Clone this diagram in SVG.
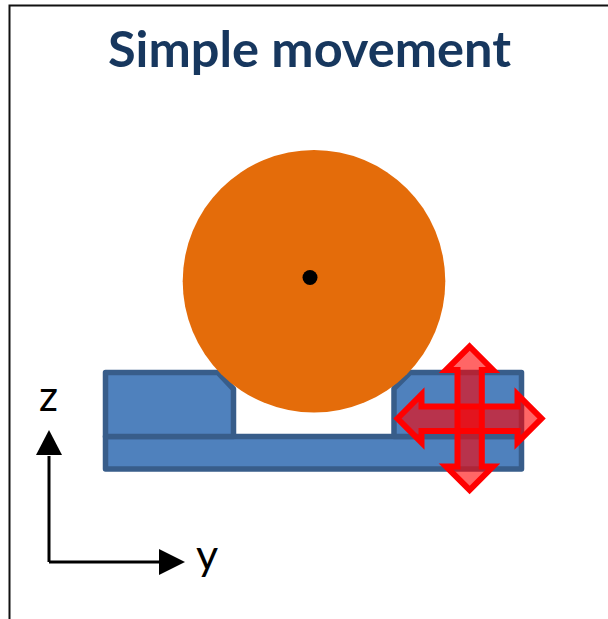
<svg xmlns="http://www.w3.org/2000/svg" width="608" height="619" viewBox="0 0 608 619">
  <style>
    .part { fill: #4F81BD; stroke: #385D8A; stroke-width: 5.5; stroke-linejoin: round; }
    .move { fill: #FF0000; fill-opacity: 0.6; stroke: #FF0000; stroke-width: 6; stroke-linejoin: miter; }
    .axis { fill: none; stroke: #000; stroke-width: 3; }
    .label { font-family: "Lato", "Liberation Sans", sans-serif; fill: #000; }
  </style>
  <rect width="608" height="619" fill="#fff"/>
  <path id="frame" d="M9.5 619V5.5H608" fill="none" stroke="#111" stroke-width="2"/>
  <text id="title" x="309.5" y="66.5" text-anchor="middle" font-family="Lato, 'Liberation Sans', sans-serif" font-weight="700" font-size="50" fill="#17375E" textLength="403" lengthAdjust="spacingAndGlyphs">Simple movement</text>
  <g id="rail"><path class="part" d="M105.5 436.5H521.5V469H105.5Z"/></g>
  <g id="block-left"><path class="part" d="M105.5 372.5H218L233.5 389V436.5H105.5Z"/></g>
  <g id="block-right"><path class="part" d="M410 372.5H521.5V436.5H394V388.5Z"/></g>
  <g id="wheel">
    <circle cx="314" cy="281.3" r="131.3" fill="#E46C0A"/>
    <circle cx="310" cy="277.5" r="7.5" fill="#000"/>
  </g>
  <g id="move-vertical"><path class="move" d="M469.6 346.5L493 370H481.8V466.5H493L469.6 490L446 466.5H457.5V370H446Z"/></g>
  <g id="move-horizontal"><path class="move" d="M397.5 418.5L421.5 394.5V406.5H517.5V394.5L541.5 418.5L517.5 442.5V431H421.5V442.5Z"/></g>
  <g id="connectors">
    <path class="axis" d="M49 456V562" />
    <path class="axis" d="M49 562H159" />
    <path d="M49 430L62 455H36Z" fill="#000"/>
    <path d="M185 562L159 549V575Z" fill="#000"/>
  </g>
  <text id="label-z" class="label" x="48.5" y="411" text-anchor="middle" font-size="42">z</text>
  <text id="label-y" class="label" x="207" y="570" text-anchor="middle" font-size="43">y</text>
</svg>
